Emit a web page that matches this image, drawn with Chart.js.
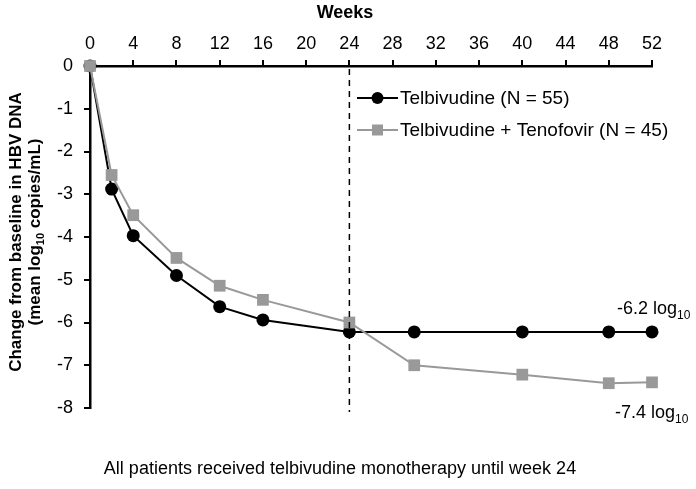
<!DOCTYPE html>
<html>
<head>
<meta charset="utf-8">
<script src="https://cdn.jsdelivr.net/npm/chart.js@4"></script>
<style>
html,body{margin:0;padding:0;background:#fff;}
#wrap{width:696px;height:489px;position:relative;}
</style>
</head>
<body>
<div id="wrap"><canvas id="c" width="696" height="489"></canvas></div>
<script>
const weeks = [0, 2, 4, 8, 12, 16, 24, 30, 40, 48, 52];
const telbivudine = [0, -2.88, -3.97, -4.9, -5.63, -5.94, -6.22, -6.22, -6.22, -6.22, -6.22];
const telbTenofovir = [0, -2.55, -3.49, -4.49, -5.14, -5.47, -6.0, -7.0, -7.22, -7.42, -7.4];
const seriesNames = ['Telbivudine (N = 55)', 'Telbivudine + Tenofovir (N = 45)'];
const xTicks = {min: 0, max: 52, step: 4};
const yTicks = {min: -8, max: 0, step: 1};
const cutoffWeek = 24;
const endLabels = [{week: 52, value: -6.2, text: '-6.2 log', sub: '10'}, {week: 52, value: -7.4, text: '-7.4 log', sub: '10'}];

const FONT = '"Liberation Sans", Arial, sans-serif';
const GREY = '#999999';

function toXY(xs, ys){ return xs.map((x,i)=>({x:x, y:ys[i]})); }

function drawRich(ctx, parts, x, y, align, size, bold){
  let w = 0;
  const fonts = parts.map(p => (bold?'bold ':'') + (p.sub ? Math.round(size*0.65) : size) + 'px ' + FONT);
  parts.forEach((p,i)=>{ ctx.font = fonts[i]; w += ctx.measureText(p.t).width; });
  let sx = align === 'center' ? x - w/2 : (align === 'right' ? x - w : x);
  ctx.textAlign = 'left';
  ctx.textBaseline = 'alphabetic';
  parts.forEach((p,i)=>{
    ctx.font = fonts[i];
    ctx.fillText(p.t, sx, y + (p.sub ? size*0.25 : 0));
    sx += ctx.measureText(p.t).width;
  });
}

const overlay = {
  id: 'overlay',
  afterDatasetsDraw(chart){
    const ctx = chart.ctx;
    const xs = chart.scales.x, ys = chart.scales.y;
    ctx.save();
    const xd = xs.getPixelForValue(cutoffWeek);
    ctx.strokeStyle = '#000';
    ctx.lineWidth = 1.5;
    ctx.setLineDash([6,5]);
    ctx.beginPath();
    ctx.moveTo(xd, ys.top + 3);
    ctx.lineTo(xd, ys.bottom + 4);
    ctx.stroke();
    ctx.setLineDash([]);
    ctx.restore();
  },
  afterDraw(chart){
    const ctx = chart.ctx;
    const xs = chart.scales.x, ys = chart.scales.y;
    ctx.save();
    ctx.fillStyle = '#000';
    ctx.font = 'bold 18px ' + FONT;
    ctx.textAlign = 'center';
    ctx.textBaseline = 'alphabetic';
    ctx.fillText('Weeks', 345, 18);
    ctx.save();
    ctx.translate(21, 232);
    ctx.rotate(-Math.PI/2);
    drawRich(ctx, [{t:'Change from baseline in HBV DNA'}], 0, 0, 'center', 17, true);
    ctx.restore();
    ctx.save();
    ctx.translate(40, 232);
    ctx.rotate(-Math.PI/2);
    drawRich(ctx, [{t:'(mean log'},{t:'10', sub:true},{t:' copies/mL)'}], 0, 0, 'center', 17, true);
    ctx.restore();
    const e0 = endLabels[0], e1 = endLabels[1];
    drawRich(ctx, [{t:e0.text},{t:e0.sub, sub:true}], xs.getPixelForValue(e0.week) - 35, ys.getPixelForValue(e0.value) - 17, 'left', 18, false);
    drawRich(ctx, [{t:e1.text},{t:e1.sub, sub:true}], xs.getPixelForValue(e1.week) - 37, ys.getPixelForValue(e1.value) + 36, 'left', 18, false);
    const items = [
      {name: seriesNames[0], color:'#000', style:'circle'},
      {name: seriesNames[1], color:GREY, style:'rect'}
    ];
    items.forEach((it, i)=>{
      const ly = 98 + i*32;
      ctx.strokeStyle = it.color;
      ctx.lineWidth = 2;
      ctx.beginPath();
      ctx.moveTo(357, ly);
      ctx.lineTo(398, ly);
      ctx.stroke();
      ctx.fillStyle = it.color;
      if (it.style === 'circle'){
        ctx.beginPath(); ctx.arc(377.5, ly, 6, 0, Math.PI*2); ctx.fill();
      } else {
        ctx.fillRect(372, ly-5.5, 11, 11);
      }
      ctx.fillStyle = '#000';
      ctx.font = '19px ' + FONT;
      ctx.textAlign = 'left';
      ctx.textBaseline = 'middle';
      ctx.fillText(it.name, 400, ly + 1);
    });
    ctx.font = '18px ' + FONT;
    ctx.textAlign = 'center';
    ctx.textBaseline = 'middle';
    ctx.fillText('All patients received telbivudine monotherapy until week 24', 340, 469);
    ctx.restore();
  }
};

new Chart(document.getElementById('c'), {
  type: 'line',
  data: {
    datasets: [
      {
        label: seriesNames[1],
        data: toXY(weeks, telbTenofovir),
        borderColor: GREY,
        backgroundColor: GREY,
        borderWidth: 2,
        pointStyle: 'rect',
        pointRadius: 8.3,
        pointHoverRadius: 8.3,
        pointBorderWidth: 0,
        tension: 0,
        clip: false
      },
      {
        label: seriesNames[0],
        data: toXY(weeks, telbivudine),
        borderColor: '#000',
        backgroundColor: '#000',
        borderWidth: 2,
        pointStyle: 'circle',
        pointRadius: 6.5,
        pointHoverRadius: 6.5,
        pointBorderWidth: 0,
        tension: 0,
        clip: false
      }
    ]
  },
  options: {
    responsive: false,
    animation: false,
    events: [],
    layout: {padding: {left: 0, right: 44, top: 0, bottom: 81}},
    plugins: {legend: {display: false}, tooltip: {enabled: false}},
    scales: {
      x: {
        type: 'linear',
        position: 'top',
        min: xTicks.min, max: xTicks.max,
        afterFit(s){ s.height = 66; },
        ticks: {stepSize: xTicks.step, color: '#000', font: {family: FONT, size: 18}, padding: 5, maxRotation: 0},
        grid: {drawOnChartArea: false, drawTicks: true, tickLength: 6, color: '#000', lineWidth: 2},
        border: {display: true, color: '#000', width: 2.5}
      },
      y: {
        type: 'linear',
        min: yTicks.min, max: yTicks.max,
        afterFit(s){ s.width = 90; },
        ticks: {stepSize: yTicks.step, color: '#000', font: {family: FONT, size: 18}, padding: 11},
        grid: {drawOnChartArea: false, drawTicks: true, tickLength: 6, color: '#000', lineWidth: 2},
        border: {display: true, color: '#000', width: 2.5}
      }
    }
  },
  plugins: [overlay]
});
</script>
</body>
</html>
